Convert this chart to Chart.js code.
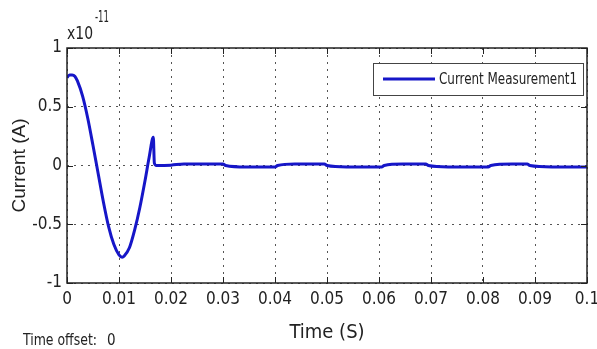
<!DOCTYPE html>
<html>
<head>
<meta charset="utf-8">
<script src="https://cdn.jsdelivr.net/npm/chart.js@4"></script>
<style>
  html, body { margin: 0; padding: 0; background: #ffffff; }
  #wrap { width: 597px; height: 349px; }
</style>
</head>
<body>
<div id="wrap"><canvas id="c" width="597" height="349"></canvas></div>
<script>
// ---- data (current in units of 1e-11 A) ----
const timeS = [0, 0.0005, 0.001, 0.0015, 0.002, 0.003, 0.004, 0.005, 0.006, 0.007, 0.008, 0.009, 0.010, 0.0106, 0.011, 0.012, 0.013, 0.014, 0.015, 0.0158, 0.0166, 0.0168, 0.0172,
  0.020, 0.0225, 0.0300, 0.0305, 0.0345, 0.0400, 0.0405, 0.0438, 0.0495, 0.0500, 0.0538, 0.0605, 0.0610, 0.0646, 0.0690, 0.0695, 0.0733, 0.0810, 0.0815, 0.0856, 0.0885, 0.0890, 0.0933, 0.1];
const currentA = [0.75, 0.77, 0.77, 0.76, 0.72, 0.59, 0.40, 0.17, -0.07, -0.31, -0.52, -0.67, -0.76, -0.78, -0.77, -0.70, -0.55, -0.36, -0.13, 0.07, 0.24, 0.02, 0.0,
  0.003, 0.013, 0.013, 0.0, -0.013, -0.013, 0.0, 0.013, 0.013, 0.0, -0.012, -0.012, 0.0, 0.012, 0.012, 0.0, -0.012, -0.012, 0.0, 0.012, 0.012, 0.0, -0.012, -0.012];
const seriesName = 'Current Measurement1';
const xTickValues = [0, 0.01, 0.02, 0.03, 0.04, 0.05, 0.06, 0.07, 0.08, 0.09, 0.1];
const xTickLabels = ['0', '0.01', '0.02', '0.03', '0.04', '0.05', '0.06', '0.07', '0.08', '0.09', '0.1'];
const yTickValues = [-1, -0.5, 0, 0.5, 1];
const yTickLabels = ['-1', '-0.5', '0', '0.5', '1'];
const xTitle = 'Time (S)';
const yTitle = 'Current (A)';
const exponentBase = 'x10';
const exponentPower = '-11';
const offsetLabel = 'Time offset:';
const offsetValue = '0';

const NARROW = "'Liberation Sans Narrow', 'DejaVu Sans Condensed', 'Liberation Sans', sans-serif";
const LINE_BLUE = '#1616c8';

function fitText(ctx, text, x, y, maxW) {
  const w = ctx.measureText(text).width;
  ctx.save();
  ctx.translate(x, y);
  if (w > maxW) ctx.scale(maxW / w, 1);
  ctx.fillText(text, 0, 0);
  ctx.restore();
}

const extras = {
  id: 'extras',
  afterDraw(chart) {
    const ctx = chart.ctx;
    const a = chart.chartArea;
    const xs = chart.scales.x, ys = chart.scales.y;
    ctx.save();
    // inward tick marks on all four sides
    ctx.strokeStyle = '#222';
    ctx.lineWidth = 1;
    ctx.beginPath();
    xs.ticks.forEach(t => {
      const px = Math.round(xs.getPixelForValue(t.value)) + 0.5;
      ctx.moveTo(px, a.bottom); ctx.lineTo(px, a.bottom - 6);
      ctx.moveTo(px, a.top); ctx.lineTo(px, a.top + 6);
    });
    ys.ticks.forEach(t => {
      const py = Math.round(ys.getPixelForValue(t.value)) + 0.5;
      ctx.moveTo(a.left, py); ctx.lineTo(a.left + 6, py);
      ctx.moveTo(a.right, py); ctx.lineTo(a.right - 6, py);
    });
    ctx.stroke();
    // axes box
    ctx.lineWidth = 1.5;
    ctx.strokeStyle = '#222';
    ctx.strokeRect(a.left, a.top, a.right - a.left, a.bottom - a.top);

    // legend box
    const lw = 210, lh = 32;
    const lx = a.right - 4 - lw, ly = a.top + 15;
    ctx.fillStyle = '#ffffff';
    ctx.fillRect(lx, ly, lw, lh);
    ctx.lineWidth = 1;
    ctx.strokeStyle = '#444';
    ctx.strokeRect(lx + 0.5, ly + 0.5, lw, lh);
    ctx.strokeStyle = LINE_BLUE;
    ctx.lineWidth = 3;
    ctx.beginPath();
    ctx.moveTo(lx + 10, ly + lh / 2); ctx.lineTo(lx + 62, ly + lh / 2);
    ctx.stroke();
    ctx.fillStyle = '#222';
    ctx.font = '16px ' + NARROW;
    ctx.textBaseline = 'middle';
    ctx.textAlign = 'left';
    fitText(ctx, chart.data.datasets[0].label, lx + 66, ly + lh / 2 + 1, 138);

    // exponent label
    ctx.font = '17px ' + NARROW;
    fitText(ctx, exponentBase, a.left, 35, 26);
    ctx.font = '15px ' + NARROW;
    fitText(ctx, exponentPower, a.left + 28, 18, 14);

    // time offset
    ctx.font = '15px ' + NARROW;
    fitText(ctx, offsetLabel, 23, 341, 74);
    ctx.fillText(offsetValue, 107, 341);
    ctx.restore();
  }
};

new Chart(document.getElementById('c'), {
  type: 'line',
  data: {
    datasets: [{
      label: seriesName,
      data: timeS.map((t, i) => ({ x: t, y: currentA[i] })),
      borderColor: LINE_BLUE,
      backgroundColor: LINE_BLUE,
      borderWidth: 3,
      pointRadius: 0,
      tension: 0,
      cubicInterpolationMode: 'monotone',
      fill: false
    }]
  },
  options: {
    responsive: false,
    devicePixelRatio: 1,
    animation: false,
    layout: { padding: { top: 48, right: 10, bottom: 0, left: 0 } },
    plugins: { legend: { display: false }, tooltip: { enabled: false }, title: { display: false } },
    scales: {
      x: {
        type: 'linear',
        min: 0, max: 0.1,
        afterBuildTicks: s => { s.ticks = xTickValues.map(v => ({ value: v })); },
        afterFit: s => { s.height = 66; s.paddingLeft = 0; s.paddingRight = 0; },
        ticks: {
          autoSkip: false, maxRotation: 0, minRotation: 0, padding: 6,
          color: '#222',
          font: { family: NARROW, size: 17 },
          callback: (v, i) => xTickLabels[i]
        },
        grid: { color: '#555', lineWidth: 1, drawTicks: false },
        border: { display: false, dash: [2, 5] },
        title: {
          display: true, text: xTitle, color: '#222',
          font: { family: NARROW, size: 20 }, padding: { top: 0, bottom: 4 }
        }
      },
      y: {
        type: 'linear',
        min: -1, max: 1,
        afterBuildTicks: s => { s.ticks = yTickValues.map(v => ({ value: v })); },
        afterFit: s => { s.width = 67; s.paddingTop = 0; s.paddingBottom = 0; },
        ticks: {
          padding: 5, color: '#222',
          font: { family: NARROW, size: 17 },
          callback: (v, i) => yTickLabels[i]
        },
        grid: { color: '#555', lineWidth: 1, drawTicks: false },
        border: { display: false, dash: [2, 5] },
        title: {
          display: true, text: yTitle, color: '#222',
          font: { family: "'Liberation Sans', sans-serif", size: 19 }, padding: { top: 8, bottom: 0 }
        }
      }
    }
  },
  plugins: [extras]
});
</script>
</body>
</html>
